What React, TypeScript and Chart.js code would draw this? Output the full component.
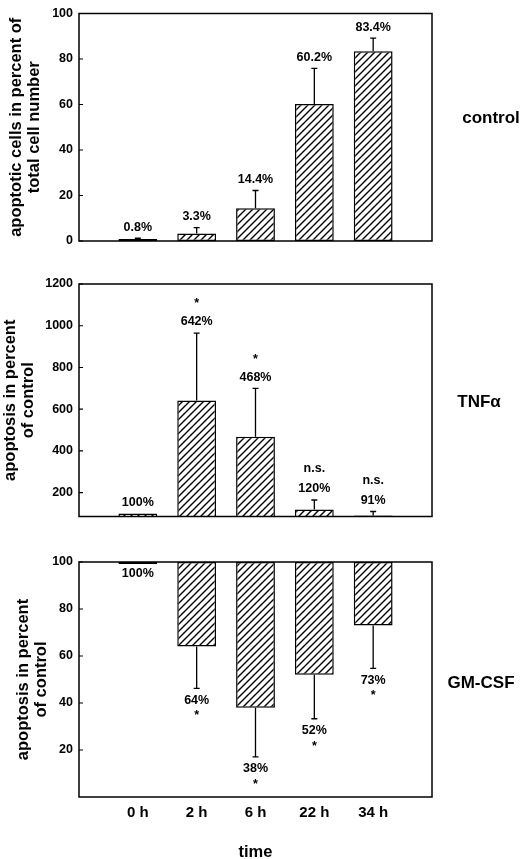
import { useEffect, useRef } from "react";
import { Chart, registerables, type ChartConfiguration, type Plugin } from "chart.js";

Chart.register(...registerables);

const FONT = '"Liberation Sans", Arial, Helvetica, sans-serif';

const timeLabels = ["0 h", "2 h", "6 h", "22 h", "34 h"];

const controlValues = [0.8, 3.3, 14.4, 60.2, 83.4];
const controlErrors = [0.4, 2.6, 7.8, 15.7, 5.8];
const controlMarks = ["", "", "", "", ""];
const controlTicks = [0, 20, 40, 60, 80, 100];

const tnfValues = [100, 642, 468, 120, 91];
const tnfErrors = [0, 323, 232, 45, 19];
const tnfMarks = ["", "*", "*", "n.s.", "n.s."];
const tnfTicks = [200, 400, 600, 800, 1000, 1200];

const gmValues = [100, 64, 38, 52, 73];
const gmErrors = [0, 17.8, 20.9, 18.7, 18.3];
const gmMarks = ["", "*", "*", "*", "*"];
const gmTicks = [20, 40, 60, 80, 100];

type Panel = {
  values: number[];
  errors: number[];
  marks: string[];
  ticks: number[];
  min: number;
  max: number;
  base?: number;
  down: boolean;
  title: string[];
  titlePad: number;
  side: string;
  sideX: number;
  sideY: number;
  top: number;
  height: number;
  padTop: number;
  padBottom: number;
  showTime: boolean;
};

const panels: Panel[] = [
  {
    values: controlValues, errors: controlErrors, marks: controlMarks, ticks: controlTicks,
    min: 0, max: 100, down: false,
    title: ["apoptotic cells in percent of", "total cell number"], titlePad: 7,
    side: "control", sideX: 491, sideY: 118,
    top: 0, height: 262, padTop: 7, padBottom: 21, showTime: false
  },
  {
    values: tnfValues, errors: tnfErrors, marks: tnfMarks, ticks: tnfTicks,
    min: 86, max: 1200, down: false,
    title: ["apoptosis in percent", "of control"], titlePad: 1,
    side: "TNFα", sideX: 479, sideY: 140,
    top: 262, height: 268, padTop: 22, padBottom: 11, showTime: false
  },
  {
    values: gmValues, errors: gmErrors, marks: gmMarks, ticks: gmTicks,
    min: 0, max: 100, base: 100, down: true,
    title: ["apoptosis in percent", "of control"], titlePad: 14,
    side: "GM-CSF", sideX: 481, sideY: 153,
    top: 530, height: 329, padTop: 32, padBottom: 0, showTime: true
  }
];

function hatch(): CanvasPattern | string {
  const c = document.createElement("canvas");
  c.width = 7;
  c.height = 7;
  const g = c.getContext("2d");
  if (!g) return "#fff";
  g.fillStyle = "#fff";
  g.fillRect(0, 0, 7, 7);
  g.strokeStyle = "#000";
  g.lineWidth = 1.4;
  g.beginPath();
  g.moveTo(-1, 8);
  g.lineTo(8, -1);
  g.moveTo(-1, 1);
  g.lineTo(1, -1);
  g.moveTo(6, 8);
  g.lineTo(8, 6);
  g.stroke();
  return g.createPattern(c, "repeat") ?? "#fff";
}

function notes(p: Panel): Plugin<"bar"> {
  return {
    id: "notes",
    afterDatasetsDraw(chart) {
      const { ctx, chartArea: a } = chart;
      const y = chart.scales.y;
      const meta = chart.getDatasetMeta(0);
      ctx.save();
      ctx.strokeStyle = "#000";
      ctx.fillStyle = "#000";
      ctx.lineWidth = 1.5;
      ctx.strokeRect(a.left, a.top, a.right - a.left, a.bottom - a.top);

      // small inward tick marks
      ctx.lineWidth = 1.2;
      ctx.beginPath();
      for (const t of p.ticks) {
        const py = y.getPixelForValue(t);
        ctx.moveTo(a.left, py);
        ctx.lineTo(a.left + 4, py);
      }
      ctx.stroke();

      ctx.textAlign = "center";
      ctx.textBaseline = "middle";
      p.values.forEach((v, i) => {
        const bar = meta.data[i + 1];
        if (!bar) return;
        const x = bar.x;
        const sign = p.down ? -1 : 1;
        const start = y.getPixelForValue(v);
        const end = y.getPixelForValue(v + sign * p.errors[i]);
        if (p.errors[i] > 0) {
          ctx.lineWidth = 1.3;
          ctx.beginPath();
          ctx.moveTo(x, start);
          ctx.lineTo(x, end);
          ctx.moveTo(x - 3, end);
          ctx.lineTo(x + 3, end);
          ctx.stroke();
        }
        const ly = end + (p.down ? 12 : -11);
        ctx.font = `bold 12.5px ${FONT}`;
        ctx.fillText(`${v}%`, x, ly);
        const m = p.marks[i];
        if (m === "*") ctx.fillText(m, x, ly + (p.down ? 15.5 : -18));
        else if (m) ctx.fillText(m, x, ly - 20);
      });

      ctx.font = `bold 17px ${FONT}`;
      ctx.fillText(p.side, p.sideX, p.sideY);
      ctx.restore();
    }
  };
}

function makeConfig(p: Panel): ChartConfiguration<"bar"> {
  const xScale: any = {
    display: p.showTime,
    offset: false,
    grid: { display: false, drawTicks: false },
    border: { display: false },
    ticks: {
      color: "#000",
      font: { family: FONT, size: 15, weight: "bold" },
      padding: 7,
      autoSkip: false,
      maxRotation: 0
    },
    title: {
      display: true,
      text: "time",
      color: "#000",
      font: { family: FONT, size: 16.5, weight: "bold", lineHeight: 0.8 },
      padding: 0
    }
  };
  if (p.showTime) xScale.afterFit = (s: any) => { s.height = 62; };

  return {
    type: "bar",
    data: {
      labels: ["", ...timeLabels, ""],
      datasets: [
        {
          data: [null, ...p.values, null] as any,
          base: p.base,
          backgroundColor: hatch(),
          borderColor: "#000",
          borderWidth: 1.5,
          borderSkipped: false,
          minBarLength: 2,
          barPercentage: 0.66,
          categoryPercentage: 1
        }
      ]
    },
    options: {
      animation: false,
      responsive: false,
      events: [],
      layout: { padding: { top: p.padTop, bottom: p.padBottom, left: 0, right: 88 } },
      plugins: { legend: { display: false }, tooltip: { enabled: false } },
      scales: {
        x: xScale,
        y: {
          min: p.min,
          max: p.max,
          grid: { display: false, drawTicks: false },
          border: { display: false },
          afterBuildTicks: (s: any) => {
            s.ticks = p.ticks.map((value) => ({ value }));
          },
          afterFit: (s: any) => {
            s.width = 79;
          },
          ticks: {
            color: "#000",
            font: { family: FONT, size: 12.5, weight: "bold" },
            padding: 6,
            callback: (v: any) => String(v)
          },
          title: {
            display: true,
            text: p.title,
            color: "#000",
            font: { family: FONT, size: 16.5, weight: "bold", lineHeight: 1.09 },
            padding: { top: p.titlePad, bottom: 0 }
          }
        }
      }
    },
    plugins: [notes(p)]
  };
}

function PanelChart({ panel }: { panel: Panel }) {
  const canvasRef = useRef<HTMLCanvasElement | null>(null);

  useEffect(() => {
    const canvas = canvasRef.current;
    if (!canvas) return;
    const chart = new Chart(canvas, makeConfig(panel));
    return () => chart.destroy();
  }, [panel]);

  return (
    <div style={{ position: "absolute", left: 0, top: panel.top, width: 520, height: panel.height }}>
      <canvas ref={canvasRef} width={520} height={panel.height} style={{ display: "block" }} />
    </div>
  );
}

export default function App() {
  return (
    <div
      style={{
        position: "absolute",
        left: 0,
        top: 0,
        width: 520,
        height: 859,
        overflow: "hidden",
        background: "#fff"
      }}
    >
      {panels.map((p, i) => (
        <PanelChart key={i} panel={p} />
      ))}
    </div>
  );
}
